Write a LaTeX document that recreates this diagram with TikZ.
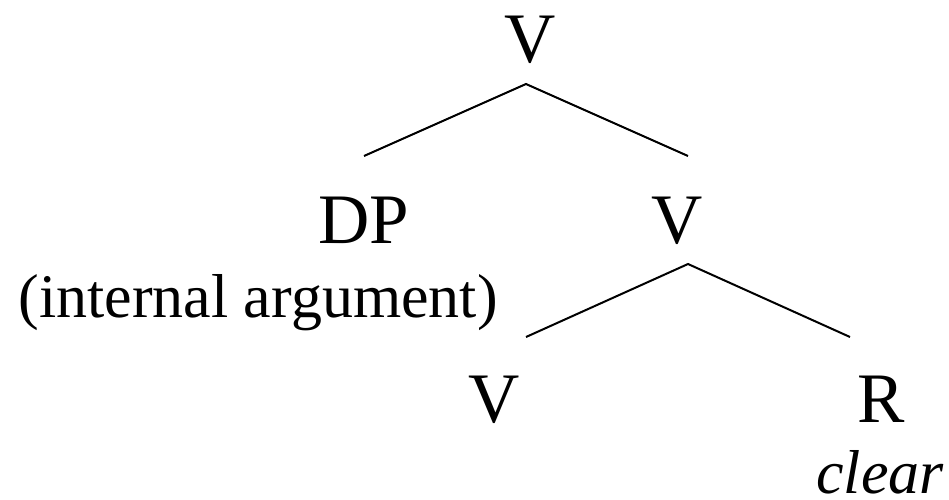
\documentclass[tikz,border=0pt]{standalone}
\usepackage{fontspec}
\setmainfont{Liberation Serif}
\begin{document}
\begin{tikzpicture}[x=1pt,y=-1pt,
  cat/.style={inner sep=0pt,anchor=base,font=\fontsize{71}{80}\selectfont},
  gloss/.style={inner sep=0pt,anchor=base,font=\fontsize{62}{70}\selectfont},
  branch/.style={line width=2pt}]
\useasboundingbox (0,0) rectangle (949,499);
\node[cat] (vtop) at (530,62) {V};
\node[cat] (dp) at (364,243) {DP};
\node[cat] (vmid) at (677,243) {V};
\node[gloss] (intarg) at (258,317) {(internal argument)};
\node[cat] (vlow) at (494,422) {V};
\node[cat] (r) at (881,422) {R};
\node[gloss] (clear) at (880,493) {\itshape clear};
\coordinate (a1) at (526,84);
\coordinate (l1) at (364,156);
\coordinate (r1) at (688,156);
\coordinate (a2) at (688,264);
\coordinate (l2) at (526,337);
\coordinate (r2) at (850,337);
\draw[branch] (l1) -- (a1) -- (r1);
\draw[branch] (l2) -- (a2) -- (r2);
\end{tikzpicture}
\end{document}
